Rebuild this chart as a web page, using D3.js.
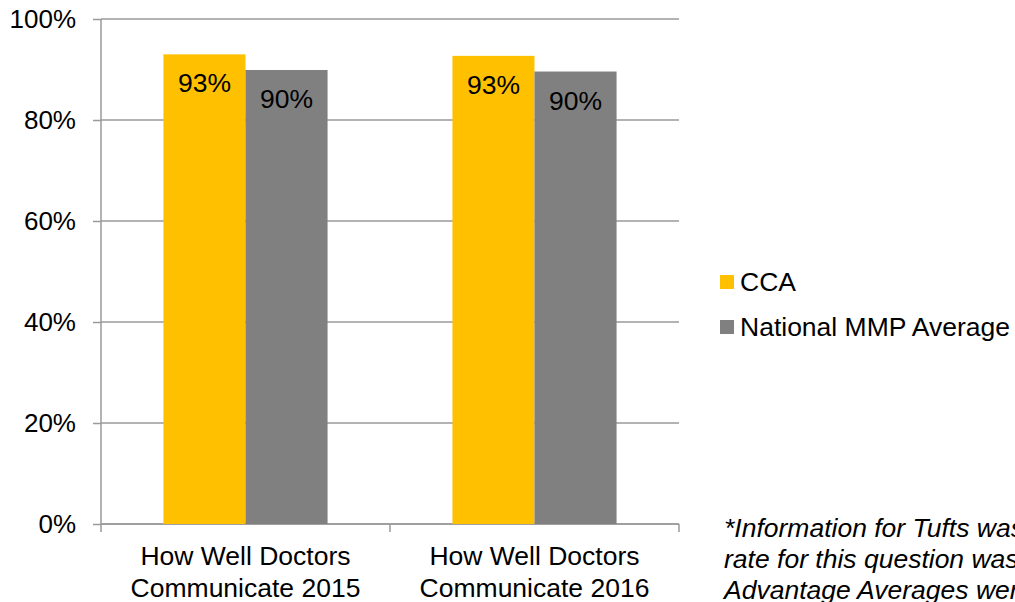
<!DOCTYPE html>
<html>
<head>
<meta charset="utf-8">
<script src="https://cdn.jsdelivr.net/npm/d3@7"></script>
<style>
  html, body { margin: 0; padding: 0; background: #fff; overflow: hidden; }
  svg { display: block; font-family: "Liberation Sans", Arial, sans-serif; }
</style>
</head>
<body>
<svg id="chart" width="1015" height="602"></svg>
<script>
const categories = [["How Well Doctors", "Communicate 2015"], ["How Well Doctors", "Communicate 2016"]];
const seriesNames = ["CCA", "National MMP Average"];
const ccaValues = [0.930, 0.927];
const mmpValues = [0.899, 0.896];
const yTicks = [0, 0.2, 0.4, 0.6, 0.8, 1.0];
const colors = ["#FFC000", "#808080"];
const footnote = ["*Information for Tufts was", "rate for this question was", "Advantage Averages were"];

const svg = d3.select("#chart");
const margin = { left: 101, top: 19, right: 336, bottom: 78 };
const W = 1015, H = 602;
const iw = W - margin.left - margin.right;
const ih = H - margin.top - margin.bottom;
const g = svg.append("g").attr("transform", `translate(${margin.left},${margin.top})`);

const x0 = d3.scaleBand().domain(d3.range(categories.length)).range([0, iw]).paddingInner(0).paddingOuter(0);
const groupW = x0.bandwidth() * 0.568;
const x1 = d3.scaleBand().domain(seriesNames).range([0, groupW]).padding(0);
const y = d3.scaleLinear().domain([0, 1]).range([ih, 0]);

const gridColor = "#9a9a9a";
const FS = 26.5;
// gridlines
g.append("g").selectAll("line").data(yTicks).join("line")
  .attr("x1", 0).attr("x2", iw)
  .attr("y1", d => y(d)).attr("y2", d => y(d))
  .attr("stroke", gridColor).attr("stroke-width", 1.5);

// y axis
const yAxis = d3.axisLeft(y).tickValues(yTicks).tickFormat(d3.format(".0%")).tickSize(8).tickPadding(17);
const ya = g.append("g").call(yAxis);
ya.select(".domain").attr("stroke", gridColor).attr("stroke-width", 1.5).attr("d", `M0,0V${ih}`);
ya.selectAll(".tick line").attr("stroke", gridColor).attr("stroke-width", 1.5);
ya.selectAll(".tick text").attr("font-size", 26).attr("fill", "#000").attr("font-family", "Liberation Sans, Arial, sans-serif");

// x axis ticks (boundaries)
const bounds = d3.range(categories.length + 1).map(i => i === categories.length ? iw : x0(i));
g.append("g").selectAll("line").data(bounds).join("line")
  .attr("x1", d => d).attr("x2", d => d).attr("y1", ih).attr("y2", ih + 8)
  .attr("stroke", gridColor).attr("stroke-width", 1.5);
g.append("line").attr("x1", 0).attr("x2", iw).attr("y1", ih).attr("y2", ih)
  .attr("stroke", gridColor).attr("stroke-width", 1.5);

// bars
const data = categories.map((c, i) => ({ i, vals: [ccaValues[i], mmpValues[i]] }));
const groups = g.append("g").selectAll("g").data(data).join("g")
  .attr("transform", d => `translate(${x0(d.i) + (x0.bandwidth() - groupW) / 2},0)`);
groups.selectAll("rect").data(d => d.vals.map((v, k) => ({ v, k }))).join("rect")
  .attr("x", d => x1(seriesNames[d.k]))
  .attr("width", x1.bandwidth())
  .attr("y", d => y(d.v))
  .attr("height", d => ih - y(d.v))
  .attr("fill", d => colors[d.k]);
groups.selectAll("text").data(d => d.vals.map((v, k) => ({ v, k }))).join("text")
  .attr("x", d => x1(seriesNames[d.k]) + x1.bandwidth() / 2)
  .attr("y", d => y(d.v) + 38)
  .attr("text-anchor", "middle")
  .attr("font-size", FS)
  .attr("fill", "#000")
  .text(d => d3.format(".0%")(d.v));

// x labels
const xl = g.append("g").selectAll("text").data(categories).join("text")
  .attr("text-anchor", "middle")
  .attr("font-size", FS)
  .attr("fill", "#000")
  .attr("transform", (d, i) => `translate(${x0(i) + x0.bandwidth() / 2},${ih + 41})`);
xl.selectAll("tspan").data(d => d).join("tspan")
  .attr("x", 0).attr("dy", (d, j) => j === 0 ? 0 : 32).text(d => d);

// legend
const leg = svg.append("g").attr("transform", "translate(720,275)");
const li = leg.selectAll("g").data(seriesNames).join("g")
  .attr("transform", (d, i) => `translate(0,${i * 45})`);
li.append("rect").attr("width", 14).attr("height", 14).attr("fill", (d, i) => colors[i]);
li.append("text").attr("x", 20).attr("y", 16).attr("font-size", FS).attr("fill", "#000").text(d => d);

// footnote
const fn = svg.append("text").attr("font-size", FS).attr("font-style", "italic").attr("fill", "#000")
  .attr("transform", "translate(724,537)");
fn.selectAll("tspan").data(footnote).join("tspan").attr("x", 0).attr("dy", (d, i) => i === 0 ? 0 : 31).text(d => d);
</script>
</body>
</html>
